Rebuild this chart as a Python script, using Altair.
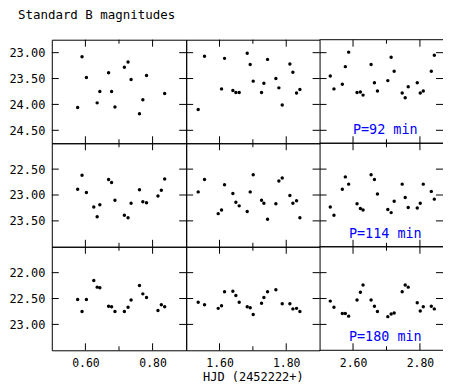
import altair as alt
import pandas as pd

# ---------------- data (HJD - 2452222, B magnitude) ----------------
t92_a = [0.577, 0.590, 0.603, 0.635, 0.643, 0.669, 0.678, 0.688, 0.716, 0.727,
         0.736, 0.761, 0.771, 0.782, 0.836]
m92_a = [24.06, 23.08, 23.48, 23.97, 23.75, 23.39, 23.75, 24.05, 23.28, 23.18,
         23.52, 24.18, 23.91, 23.44, 23.79]

t92_b = [1.536, 1.555, 1.606, 1.615, 1.640, 1.649, 1.659, 1.683, 1.692, 1.701,
         1.726, 1.733, 1.744, 1.769, 1.778, 1.788, 1.811, 1.820, 1.831, 1.841]
m92_b = [24.10, 23.07, 23.70, 23.11, 23.73, 23.77, 23.77, 23.01, 23.23, 23.55,
         23.77, 23.59, 23.13, 23.50, 23.68, 24.01, 23.22, 23.38, 23.78, 23.71]

t92_c = [2.532, 2.543, 2.568, 2.577, 2.587, 2.612, 2.622, 2.630, 2.654, 2.664, 2.673,
         2.704, 2.714, 2.723, 2.747, 2.756, 2.765, 2.792, 2.801, 2.810, 2.834, 2.843]
m92_c = [23.45, 23.70, 23.61, 23.27, 22.99, 23.77, 23.76, 23.82, 23.23, 23.58, 23.74,
         23.54, 23.09, 23.36, 23.78, 23.87, 23.66, 23.58, 23.78, 23.74, 23.36, 23.05]

t114_a = [0.577, 0.590, 0.603, 0.625, 0.635, 0.643, 0.669, 0.678, 0.688, 0.716,
          0.727, 0.736, 0.761, 0.771, 0.782, 0.816, 0.826, 0.836]
m114_a = [22.89, 22.62, 22.95, 23.23, 23.42, 23.19, 22.70, 22.76, 23.10, 23.39,
          23.44, 23.16, 22.90, 23.13, 23.15, 23.02, 22.91, 22.69]

t114_b = [1.536, 1.555, 1.596, 1.606, 1.615, 1.640, 1.649, 1.659, 1.683, 1.692, 1.701,
          1.726, 1.733, 1.744, 1.769, 1.778, 1.788, 1.811, 1.820, 1.831, 1.841]
m114_b = [22.94, 22.70, 23.36, 23.29, 22.80, 22.97, 23.14, 23.21, 23.32, 22.94, 22.61,
          23.10, 23.16, 23.47, 23.17, 22.73, 22.67, 23.01, 23.16, 23.11, 23.44]

t114_c = [2.532, 2.543, 2.568, 2.577, 2.587, 2.612, 2.622, 2.630, 2.654, 2.664, 2.673,
          2.704, 2.714, 2.723, 2.747, 2.756, 2.765, 2.792, 2.801, 2.810, 2.834, 2.843]
m114_c = [23.23, 23.39, 22.89, 22.65, 22.79, 23.17, 23.26, 23.29, 22.61, 22.70, 22.98,
          23.28, 23.34, 23.12, 22.79, 23.05, 23.24, 23.25, 23.16, 22.79, 22.93, 23.08]

t180_a = [0.577, 0.590, 0.603, 0.625, 0.635, 0.643, 0.669, 0.678, 0.688, 0.716,
          0.727, 0.736, 0.761, 0.771, 0.782, 0.816, 0.826, 0.836]
m180_a = [22.52, 22.75, 22.52, 22.15, 22.28, 22.29, 22.65, 22.66, 22.75, 22.75,
          22.67, 22.53, 22.25, 22.41, 22.48, 22.73, 22.62, 22.66]

t180_b = [1.536, 1.555, 1.596, 1.606, 1.615, 1.640, 1.649, 1.659, 1.683, 1.692,
          1.701, 1.726, 1.733, 1.744, 1.769, 1.788, 1.811, 1.820, 1.831, 1.841]
m180_b = [22.57, 22.62, 22.69, 22.64, 22.37, 22.36, 22.44, 22.57, 22.66, 22.68,
          22.81, 22.59, 22.48, 22.37, 22.33, 22.60, 22.60, 22.70, 22.69, 22.75]

t180_c = [2.532, 2.543, 2.568, 2.577, 2.587, 2.612, 2.622, 2.630, 2.654, 2.664, 2.673,
          2.704, 2.714, 2.723, 2.747, 2.756, 2.765, 2.792, 2.801, 2.810, 2.834, 2.843]
m180_c = [22.55, 22.67, 22.79, 22.79, 22.84, 22.53, 22.38, 22.24, 22.53, 22.65, 22.75,
          22.85, 22.80, 22.78, 22.37, 22.24, 22.28, 22.58, 22.74, 22.66, 22.65, 22.70]

period_labels = ["P=92 min", "P=114 min", "P=180 min"]

x_domains = [[0.5, 0.9], [1.5, 1.9], [2.5, 2.869]]
x_major = [[0.6, 0.8], [1.6, 1.8], [2.6, 2.8]]
x_minor = [[0.7], [1.7], [2.7]]

y_domains = [[22.75, 24.75], [22.0, 24.0], [21.5, 23.5]]
y_ticks = [[23.0, 23.5, 24.0, 24.5], [22.5, 23.0, 23.5], [22.0, 22.5, 23.0]]

x_title = "HJD (2452222+)"
chart_title = "Standard B magnitudes"

series = [
    [(t92_a, m92_a), (t92_b, m92_b), (t92_c, m92_c)],
    [(t114_a, m114_a), (t114_b, m114_b), (t114_c, m114_c)],
    [(t180_a, m180_a), (t180_b, m180_b), (t180_c, m180_c)],
]

# ---------------- layout / style ----------------
FONT = "DejaVu Sans Mono"
WIDTHS = [135, 134, 124]
H = 104
MAJ = 7
MIN = 4


def panel(row, col):
    t, m = series[row][col]
    w = WIDTHS[col]
    xs = alt.Scale(domain=x_domains[col], nice=False, zero=False)
    ys = alt.Scale(domain=y_domains[row], reverse=True, nice=False, zero=False)

    if row == 2:
        xax = alt.Axis(values=x_major[col], format=".2f", ticks=False, domain=False,
                       grid=False, labelPadding=7, labelFontSize=11.5,
                       titleFontSize=12, titlePadding=3, titleFont=FONT,
                       titleFontWeight="normal")
    else:
        xax = None
    if col == 0:
        yax = alt.Axis(values=y_ticks[row], format=".2f", ticks=False, domain=False,
                       grid=False, labelPadding=7, labelFontSize=12)
    else:
        yax = None
    xt = x_title if (row == 2 and col == 1) else None

    def X(f):
        return alt.X(f, type="quantitative", scale=xs, axis=xax, title=xt)

    def Y(f):
        return alt.Y(f, type="quantitative", scale=ys, axis=yax, title=None)

    df = pd.DataFrame({"t": t, "m": m})
    ydf = pd.DataFrame({"v": y_ticks[row]})
    xmaj = pd.DataFrame({"v": x_major[col]})
    xmin = pd.DataFrame({"v": x_minor[col]})

    pts = alt.Chart(df).mark_circle(size=12, color="black", opacity=1).encode(
        x=X("t"), y=Y("m"))
    rule = dict(color="black", strokeWidth=1)
    yl = alt.Chart(ydf).mark_rule(**rule).encode(y=Y("v"), x=alt.value(0), x2=alt.value(MAJ))
    yr = alt.Chart(ydf).mark_rule(**rule).encode(y=Y("v"), x=alt.value(w - MAJ), x2=alt.value(w))
    xt1 = alt.Chart(xmaj).mark_rule(**rule).encode(x=X("v"), y=alt.value(0), y2=alt.value(MAJ))
    xb1 = alt.Chart(xmaj).mark_rule(**rule).encode(x=X("v"), y=alt.value(H - MAJ), y2=alt.value(H))
    xt2 = alt.Chart(xmin).mark_rule(**rule).encode(x=X("v"), y=alt.value(0), y2=alt.value(MIN))
    xb2 = alt.Chart(xmin).mark_rule(**rule).encode(x=X("v"), y=alt.value(H - MIN), y2=alt.value(H))
    layers = [pts, yl, yr, xt1, xb1, xt2, xb2]
    props = dict(width=w, height=H)
    if row == 0 and col == 0:
        ttl = alt.Chart(pd.DataFrame({"ttl": [chart_title]})).mark_text(
            align="left", baseline="alphabetic", font=FONT, fontSize=12.5, color="black"
        ).encode(text="ttl:N", x=alt.value(-34), y=alt.value(-20.5))
        layers.append(ttl)
    if col == 2:
        txt = alt.Chart(pd.DataFrame({"lbl": [period_labels[row]]})).mark_text(
            color="#0000ff", font=FONT, fontSize=13.5, align="center", baseline="middle"
        ).encode(text="lbl:N", x=alt.value(66), y=alt.value(91))
        # the right-hand panel runs off the page: frame only top and bottom
        edge = pd.DataFrame({"v": y_domains[row]})
        frame = alt.Chart(edge).mark_rule(**rule).encode(
            y=Y("v"), x=alt.value(0), x2=alt.value(w))
        layers += [txt, frame]
        props["view"] = alt.ViewConfig(stroke="transparent")
    return alt.layer(*layers).properties(**props)


panels = [panel(r, c) for r in range(3) for c in range(3)]

chart = alt.concat(*panels, columns=3, spacing=0, bounds="flush", align="each").properties(
    padding={"left": 0, "top": 0, "right": 0, "bottom": 0},
).configure_view(stroke="black", strokeWidth=1).configure_axis(
    labelFont=FONT, titleFont=FONT, labelColor="black", titleColor="black"
)

chart.save("out.html", embed_options={"renderer": "svg", "actions": False})
